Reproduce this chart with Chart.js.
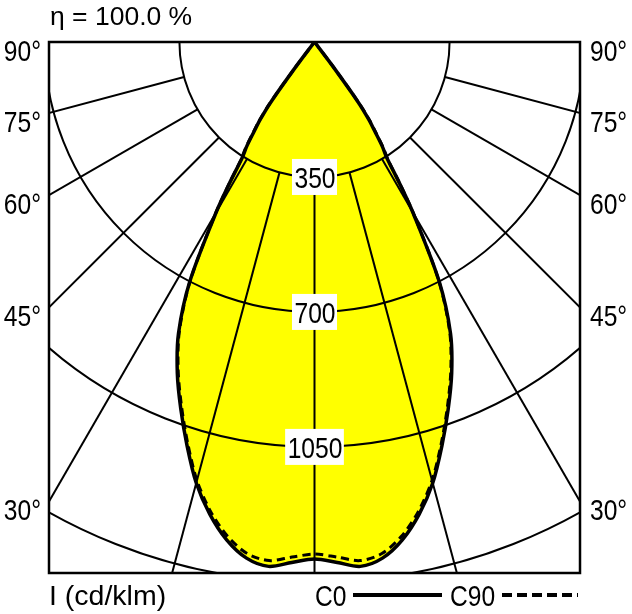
<!DOCTYPE html>
<html>
<head>
<meta charset="utf-8">
<script src="https://cdn.jsdelivr.net/npm/chart.js@4.4.0/dist/chart.umd.min.js"></script>
<style>
    html, body { margin: 0; padding: 0; background: #fff; }
    canvas { display: block; }
</style>
</head>
<body>
<canvas id="ldcChart" width="632" height="614"></canvas>
<script>
// gamma angles from nadir (deg) and luminous intensity (cd/klm)
var angles = [0, 2.5, 5, 7.5, 10, 12.5, 15, 17.5, 20, 22.5, 25, 27.5, 30, 31, 32, 33, 34, 35, 36, 37, 38, 40, 45, 50, 55, 60, 65, 70, 75, 80, 85, 90];
var c0Values = [1341, 1351, 1365, 1350, 1311, 1254, 1184, 1098, 1013, 929, 834, 699, 509, 429, 353, 322, 280, 245, 192, 80, 5, 0, 0, 0, 0, 0, 0, 0, 0, 0, 0, 0];
var c90Values = [1328, 1337, 1350, 1338, 1301, 1246, 1177, 1092, 1007, 923, 829, 697, 511, 433, 358, 328, 287, 252, 200, 90, 8, 0, 0, 0, 0, 0, 0, 0, 0, 0, 0, 0];
var ringValues = [350, 700, 1050, 1400];
var ringLabels = ['350', '700', '1050'];
var spokeAngles = [0, 15, 30, 45, 60, 75];
var sideLabels = [90, 75, 60, 45, 30];

var FONT = '"Liberation Sans", Arial, sans-serif';
var NARROW_X = 0.82; // Arial Narrow look: Liberation Sans squeezed horizontally

function toXY(vals) {
    var pts = [];
    // right half (C0 / C90), from 90 deg down to nadir
    for (var i = angles.length - 1; i >= 0; i--) {
        var a = angles[i] * Math.PI / 180;
        pts.push({ x: vals[i] * Math.sin(a), y: -vals[i] * Math.cos(a) });
    }
    // left half, mirrored (C180 / C270)
    for (var j = 1; j < angles.length; j++) {
        var b = angles[j] * Math.PI / 180;
        pts.push({ x: -vals[j] * Math.sin(b), y: -vals[j] * Math.cos(b) });
    }
    return pts;
}

function narrowText(ctx, text, x, y, size, align) {
    ctx.save();
    ctx.font = size + 'px ' + FONT;
    ctx.textAlign = align;
    ctx.textBaseline = 'alphabetic';
    ctx.translate(x, y);
    ctx.scale(NARROW_X, 1);
    ctx.fillText(text, 0, 0);
    ctx.restore();
}

var gridPlugin = {
    id: 'polarGrid',
    afterDatasetDraw: function (chart, args) {
        if (args.index !== 0) return;
        var ctx = chart.ctx, area = chart.chartArea;
        var xs = chart.scales.x, ys = chart.scales.y;
        var cx = xs.getPixelForValue(0), cy = ys.getPixelForValue(0);
        ctx.save();
        ctx.beginPath();
        ctx.rect(area.left, area.top, area.right - area.left, area.bottom - area.top);
        ctx.clip();
        ctx.strokeStyle = '#000';
        ctx.lineWidth = 2;
        ringValues.forEach(function (v) {
            var rx = xs.getPixelForValue(v) - cx;
            var ry = ys.getPixelForValue(-v) - cy;
            ctx.beginPath();
            ctx.ellipse(cx, cy, rx, ry, 0, 0, Math.PI);
            ctx.stroke();
        });
        var r0 = ringValues[0], r1 = 4000;
        spokeAngles.forEach(function (deg) {
            [1, -1].forEach(function (side) {
                if (deg === 0 && side < 0) return;
                var a = deg * Math.PI / 180;
                ctx.beginPath();
                ctx.moveTo(xs.getPixelForValue(side * r0 * Math.sin(a)), ys.getPixelForValue(-r0 * Math.cos(a)));
                ctx.lineTo(xs.getPixelForValue(side * r1 * Math.sin(a)), ys.getPixelForValue(-r1 * Math.cos(a)));
                ctx.stroke();
            });
        });
        ctx.restore();
    },
    afterDraw: function (chart) {
        var ctx = chart.ctx, area = chart.chartArea;
        var xs = chart.scales.x, ys = chart.scales.y;
        var cx = xs.getPixelForValue(0);
        ctx.save();
        ctx.fillStyle = '#000';

        // ring value labels on white boxes
        ctx.font = '30px ' + FONT;
        ringLabels.forEach(function (t, i) {
            var py = ys.getPixelForValue(-ringValues[i]);
            var w = ctx.measureText(t).width * NARROW_X + 4;
            ctx.fillStyle = '#fff';
            ctx.fillRect(cx - w / 2, py - 18, w, 36);
            ctx.fillStyle = '#000';
            narrowText(ctx, t, cx + 0.5, py + 11, 30, 'center');
        });

        // frame
        ctx.strokeStyle = '#000';
        ctx.lineWidth = 2.5;
        ctx.strokeRect(area.left, area.top, area.right - area.left, area.bottom - area.top);

        // angle labels at both sides
        var xMax = xs.max;
        sideLabels.forEach(function (deg) {
            var a = deg * Math.PI / 180;
            var yv = deg === 90 ? 0 : -xMax / Math.tan(a);
            var py = ys.getPixelForValue(yv) + 18.5;
            narrowText(ctx, deg + '°', area.left - 8, py, 30, 'right');
            narrowText(ctx, deg + '°', area.right + 10, py, 30, 'left');
        });

        // title and unit
        ctx.textAlign = 'left';
        ctx.textBaseline = 'alphabetic';
        ctx.font = '26.5px ' + FONT;
        ctx.fillText('η = 100.0 %', 50, 25);
        ctx.font = '28.5px ' + FONT;
        ctx.fillText('I (cd/klm)', 49, 605);

        // legend
        narrowText(ctx, 'C0', 315, 606, 30, 'left');
        narrowText(ctx, 'C90', 450, 606, 30, 'left');
        ctx.lineWidth = 4;
        ctx.beginPath();
        ctx.moveTo(353, 595);
        ctx.lineTo(442, 595);
        ctx.stroke();
        ctx.setLineDash([10, 5]);
        ctx.beginPath();
        ctx.moveTo(502, 595);
        ctx.lineTo(578, 595);
        ctx.stroke();
        ctx.restore();
    }
};

var ctx = document.getElementById('ldcChart').getContext('2d');
var ldcChart = new Chart(ctx, {
    type: 'scatter',
    data: {
        datasets: [
            {
                label: 'area',
                data: toXY(c0Values),
                showLine: true,
                fill: 'shape',
                backgroundColor: '#ffff00',
                borderColor: 'rgba(0,0,0,0)',
                borderWidth: 0,
                pointRadius: 0,
                tension: 0.3,
                order: 3
            },
            {
                label: 'C90',
                data: toXY(c90Values),
                showLine: true,
                fill: false,
                borderColor: '#000',
                borderWidth: 3,
                borderDash: [8, 5],
                pointRadius: 0,
                tension: 0.3,
                order: 2
            },
            {
                label: 'C0',
                data: toXY(c0Values),
                showLine: true,
                fill: false,
                borderColor: '#000',
                borderWidth: 3.5,
                pointRadius: 0,
                tension: 0.3,
                order: 1
            }
        ]
    },
    options: {
        responsive: false,
        animation: false,
        layout: { padding: { left: 49, right: 52, top: 42, bottom: 41 } },
        scales: {
            x: { type: 'linear', min: -688, max: 688, display: false },
            y: { type: 'linear', min: -1377, max: 0, display: false }
        },
        plugins: {
            legend: { display: false },
            tooltip: { enabled: false }
        }
    },
    plugins: [gridPlugin]
});
</script>
</body>
</html>
